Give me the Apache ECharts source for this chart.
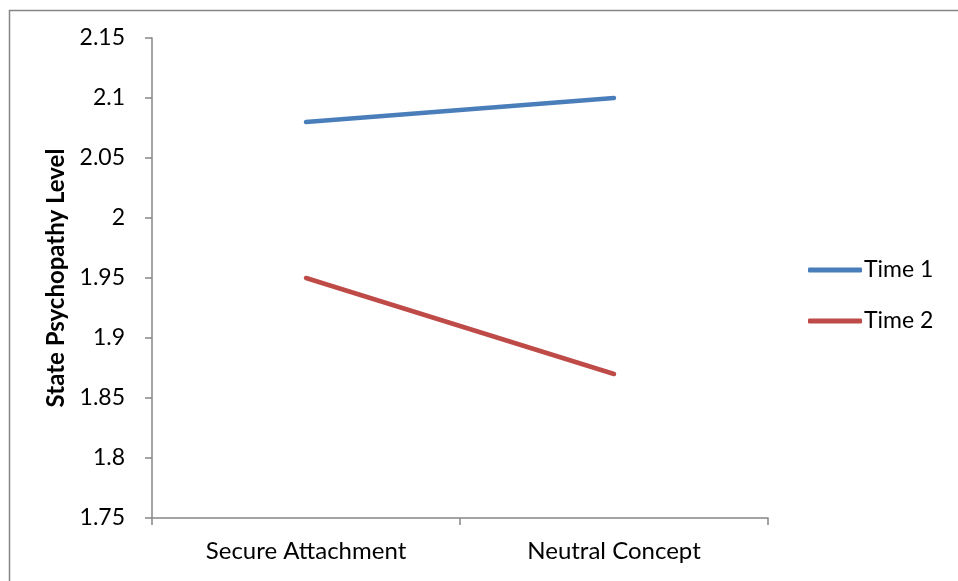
<!DOCTYPE html>
<html><head><meta charset="utf-8">
<script src="https://cdn.jsdelivr.net/npm/echarts@6/dist/echarts.min.js"></script>
<style>html,body{margin:0;padding:0;background:#fff}#c{width:958px;height:581px}</style>
</head><body><div id="c"></div>
<script>
const categories = ['Secure Attachment', 'Neutral Concept'];
const time1 = [2.08, 2.10];
const time2 = [1.95, 1.87];
const yTicks = { min: 1.75, max: 2.15, interval: 0.05 };
const yTitle = 'State Psychopathy Level';

const chart = echarts.init(document.getElementById('c'), null, { renderer: 'canvas' });
const font = 'Lato, "Open Sans", sans-serif';
chart.setOption({
  animation: false,
  backgroundColor: '#fff',
  textStyle: { fontFamily: font },
  graphic: [{
    type: 'rect', left: 7, top: 8, shape: { x: 0, y: 0, width: 1000, height: 700 },
    style: { fill: 'none', stroke: '#868686', lineWidth: 1.5 }, silent: true, z: -1
  }],
  grid: { left: 152, right: 190, top: 38, bottom: 63 },
  xAxis: {
    type: 'category', data: categories, boundaryGap: true,
    axisLine: { lineStyle: { color: '#868686', width: 1.5 } },
    axisTick: { show: true, length: 7, inside: false, lineStyle: { color: '#868686', width: 1.5 } },
    axisLabel: { color: '#000', fontSize: 24, fontFamily: font, margin: 21 },
    splitLine: { show: false }
  },
  yAxis: {
    type: 'value', min: yTicks.min, max: yTicks.max, interval: yTicks.interval,
    name: yTitle, nameLocation: 'middle', nameGap: 81, nameRotate: 90,
    nameTextStyle: { color: '#000', fontSize: 24, fontWeight: 'bold', fontFamily: font },
    axisLine: { show: true, lineStyle: { color: '#868686', width: 1.5 } },
    axisTick: { show: true, length: 7, lineStyle: { color: '#868686', width: 1.5 } },
    axisLabel: { color: '#000', fontSize: 23, fontFamily: font, margin: 27,
      formatter: v => String(parseFloat(v.toFixed(2))) },
    splitLine: { show: false }
  },
  legend: {
    orient: 'vertical', left: 803, top: 253, itemWidth: 54, itemHeight: 5, itemGap: 27,
    textStyle: { color: '#000', fontSize: 23, lineHeight: 24, fontFamily: font, padding: [0, 0, 0, -3] },
    data: [{ name: 'Time 1', icon: 'roundRect' }, { name: 'Time 2', icon: 'roundRect' }]
  },
  series: [
    { name: 'Time 1', type: 'line', data: time1, symbol: 'none',
      itemStyle: { color: '#4A7EBB' }, lineStyle: { color: '#4A7EBB', width: 4.5, cap: 'round' } },
    { name: 'Time 2', type: 'line', data: time2, symbol: 'none',
      itemStyle: { color: '#BE4B48' }, lineStyle: { color: '#BE4B48', width: 4.5, cap: 'round' } }
  ]
});
</script></body></html>
